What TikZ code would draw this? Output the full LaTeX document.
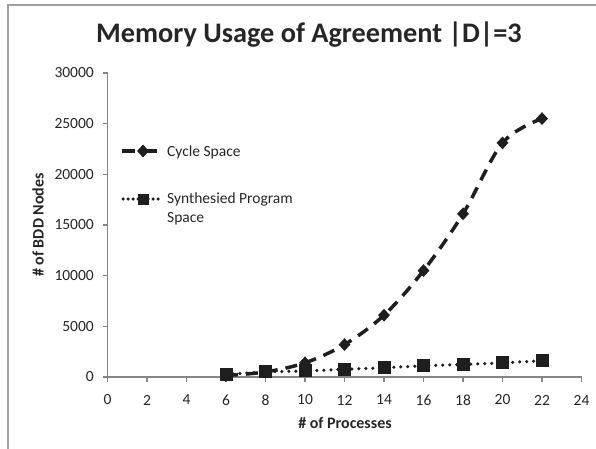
\documentclass[tikz,border=0pt]{standalone}
\usepackage{fontspec}
\setmainfont{Carlito}
\usetikzlibrary{shapes.geometric}
\definecolor{inkc}{HTML}{1E1E1E}
\definecolor{txtc}{HTML}{262626}
\definecolor{axisc}{HTML}{868686}
\definecolor{framec}{HTML}{A0A0A0}
\tikzset{
  axisline/.style={draw=axisc, line width=1.5pt},
  ticklbl/.style={text=txtc, inner sep=0pt, font=\fontsize{15.5}{18}\selectfont},
  cycline/.style={draw=inkc, line width=3.5pt, dash pattern=on 12pt off 8pt},
  synline/.style={draw=inkc, line width=3.5pt, line cap=round, dash pattern=on 0pt off 7pt},
  diamark/.style={shape=diamond, fill=inkc, inner sep=0pt, minimum width=12pt, minimum height=13pt},
  sqmark/.style={shape=rectangle, fill=inkc, inner sep=0pt, minimum size=13pt},
  legtxt/.style={text=txtc, inner sep=0pt, font=\fontsize{15.5}{18.5}\selectfont, align=left},
  axtitle/.style={text=txtc, inner sep=0pt, font=\bfseries\fontsize{16}{18}\selectfont}
}
\begin{document}
\begin{tikzpicture}[x=1pt, y=-1pt]
\useasboundingbox (0,0) rectangle (596,449);
% outer chart frame
\draw[framec, line width=1.2pt] (8,449) -- (8,5) -- (596,5);

% title
\node[text=txtc, anchor=base, inner sep=0pt, font=\bfseries\fontsize{28.3}{32}\selectfont] (title) at (309,43) {Memory Usage of Agreement |D|=3};

% axes
\draw[axisline] (107.5,73) -- (107.5,377) -- (581.5,377);
\foreach \i in {0,...,12} {
  \pgfmathsetmacro{\xx}{107.5+39.5*\i}
  \pgfmathtruncatemacro{\lab}{2*\i}
  \draw[axisline] (\xx,377) -- (\xx,381.5);
  \node[ticklbl] (xt\i) at (\xx,400) {\lab};
}
\foreach \j/\lab in {0/0, 1/5000, 2/10000, 3/15000, 4/20000, 5/25000, 6/30000} {
  \pgfmathsetmacro{\yy}{377-50.6667*\j}
  \draw[axisline] (103,\yy) -- (107.5,\yy);
  \node[ticklbl, anchor=east] (yt\j) at (94,\yy) {\lab};
}

% axis titles
\node[axtitle] (xtitle) at (345,423) {\# of Processes};
\node[axtitle, rotate=90] (ytitle) at (38,225) {\# of BDD Nodes};

% data (y in thousands of nodes)
\begin{scope}[shift={(107.5,377)}, x=19.75pt, y=10.1333pt]
  \draw[cycline] plot[smooth, tension=0.55] coordinates {(6,0.15) (8,0.5) (10,1.4) (12,3.2) (14,6.1) (16,10.5) (18,16.1) (20,23.1) (22,25.5)};
  \foreach \px/\py in {6/0.15, 8/0.5, 10/1.4, 12/3.2, 14/6.1, 16/10.5, 18/16.1, 20/23.1, 22/25.5}
    \node[diamark] (c\px) at (\px,\py) {};
  \draw[synline] plot[smooth, tension=0.55] coordinates {(6,0.25) (8,0.5) (10,0.6) (12,0.76) (14,0.92) (16,1.1) (18,1.25) (20,1.4) (22,1.6)};
  \foreach \px/\py in {6/0.25, 8/0.5, 10/0.6, 12/0.76, 14/0.92, 16/1.1, 18/1.25, 20/1.4, 22/1.6}
    \node[sqmark] (s\px) at (\px,\py) {};
\end{scope}

% legend
\coordinate (la1) at (122,151);
\coordinate (lb1) at (158,151);
\draw[draw=inkc, line width=3.5pt, dash pattern=on 13pt off 9pt] (la1) -- (lb1);
\node[diamark] (lm1) at (143,151) {};
\node[legtxt, anchor=west] (lt1) at (167,152) {Cycle Space};

\coordinate (la2) at (123,199);
\coordinate (lb2) at (158,199);
\draw[draw=inkc, line width=3.5pt, line cap=round, dash pattern=on 0pt off 5pt] (la2) -- (lb2);
\node[sqmark, minimum size=11pt] (lm2) at (143,199) {};
\node[legtxt, anchor=north west] (lt2) at (167,193) {Synthesied Program\\Space};
\end{tikzpicture}
\end{document}
